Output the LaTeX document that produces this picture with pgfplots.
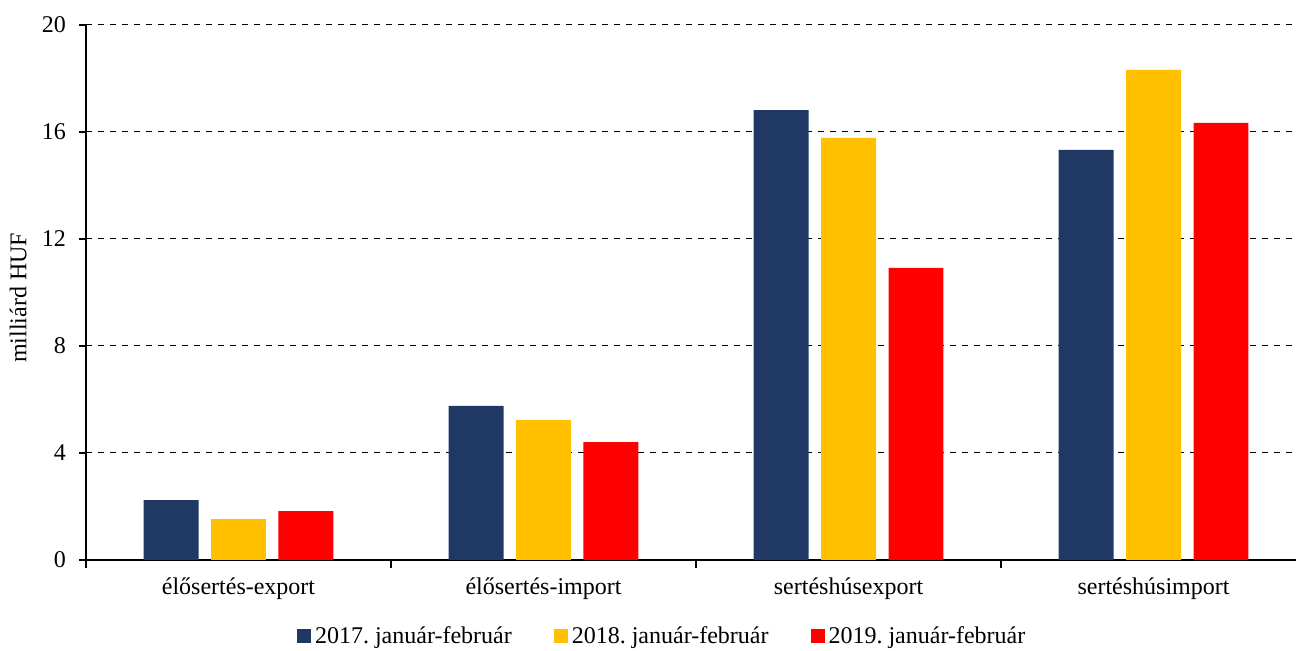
\documentclass[border=0pt]{standalone}
\usepackage{fontspec}
\setmainfont{Liberation Serif}
\usepackage{pgfplots}
\pgfplotsset{compat=1.18}
\definecolor{navy}{HTML}{203864}
\definecolor{gold}{HTML}{FFC000}
\definecolor{piros}{HTML}{FF0000}
\begin{document}
\frenchspacing
\begin{tikzpicture}[font=\fontsize{12}{14}\selectfont]
  \begin{axis}[
    scale only axis,
    width=605pt, height=267.5pt,
    xmin=-0.5, xmax=3.467,
    ymin=0, ymax=20,
    ytick={0,4,8,12,16,20},
    xtick={0,1,2,3},
    xticklabels={élősertés-export,élősertés-import,sertéshúsexport,sertéshúsimport},
    minor xtick={-0.5,0.5,1.5,2.5},
    major x tick style={draw=none},
    minor tick length=4pt,
    major tick length=3.5pt,
    tick align=outside,
    tick style={black, line width=1pt},
    xticklabel style={yshift=-2pt},
    yticklabel style={xshift=-3pt},
    /pgf/number format/assume math mode=true,
    axis x line*=bottom, axis y line*=left,
    axis line style={-, black, line width=1pt},
    ymajorgrids,
    grid style={black, dashed, line width=0.5pt},
    ylabel={milliárd HUF},
    ylabel style={at={(axis description cs:-0.056,0.49)}, anchor=center},
    ybar, bar width=0.18,
    legend columns=3,
    legend style={draw=none, fill=none, at={(axis description cs:0.477,-0.143)}, anchor=center,
      /tikz/every even column/.append style={column sep=19pt},
      inner sep=0pt, font=\fontsize{12}{14}\selectfont},
    clip=false,
  ]
    \addplot[fill=navy, draw=none, bar shift=-0.221,
      legend image code/.code={\fill[navy] (0pt,-3.5pt) rectangle (7pt,3.5pt);}]
      coordinates {(0,2.24) (1,5.76) (2,16.82) (3,15.33)};
    \addlegendentry{2017. január-február}
    \addplot[fill=gold, draw=none, bar shift=0,
      legend image code/.code={\fill[gold] (0pt,-3.5pt) rectangle (7pt,3.5pt);}]
      coordinates {(0,1.53) (1,5.23) (2,15.78) (3,18.32)};
    \addlegendentry{2018. január-február}
    \addplot[fill=piros, draw=none, bar shift=0.221,
      legend image code/.code={\fill[piros] (0pt,-3.5pt) rectangle (7pt,3.5pt);}]
      coordinates {(0,1.83) (1,4.41) (2,10.92) (3,16.34)};
    \addlegendentry{2019. január-február}
    \coordinate (sw) at (rel axis cs:0,0);
    \coordinate (ne) at (rel axis cs:1,1);
  \end{axis}
  \pgfresetboundingbox
  \useasboundingbox ([xshift=-43pt,yshift=-45.5pt]sw) rectangle ([yshift=12.5pt]ne);
\end{tikzpicture}
\end{document}
